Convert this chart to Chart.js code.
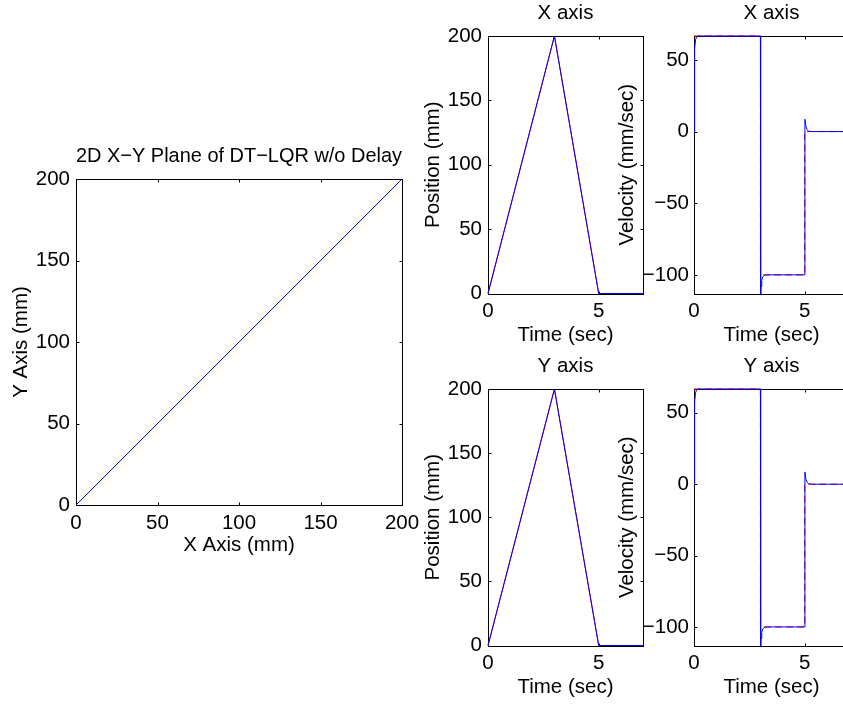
<!DOCTYPE html>
<html>
<head>
<meta charset="utf-8">
<script src="https://cdn.jsdelivr.net/npm/chart.js@4.4.1/dist/chart.umd.min.js"></script>
<style>
  html, body { margin: 0; padding: 0; background: #fff; overflow: hidden; width: 843px; height: 705px; }
  canvas { position: absolute; }
</style>
</head>
<body>
<canvas id="xyPlane"></canvas>
<canvas id="posX"></canvas>
<canvas id="velX"></canvas>
<canvas id="posY"></canvas>
<canvas id="velY"></canvas>
<script>
(() => {
  'use strict'

  // Trayectoria en el plano X-Y
  const xyPathX = [0, 200]
  const xyPathY = [0, 200]

  // Posicion: referencia (roja) y respuesta (azul)
  const posTimeRef = [0, 3, 5, 7]
  const posRef = [0, 200, 0, 0]
  const posTimeAct = [0, 3, 5, 7]
  const posXAct = [0, 200, 0, 0]
  const posYAct = [0, 200, 0, 0]

  // Velocidad: referencia (roja, discontinua) y respuesta (azul)
  const velTimeRef = [0, 3, 3, 5, 5, 7]
  const velRef = [66.7, 66.7, -100, -100, 0, 0]
  const velTimeAct = [0, 0.02, 0.04, 0.07, 0.12, 0.2, 3, 3.01, 3.03, 3.06, 3.1, 3.18, 3.3, 5, 5.01, 5.05, 5.1, 5.18, 5.3, 7]
  const velXAct = [0, 40, 58, 64, 66.3, 66.7, 66.7, -118, -108, -104, -101.5, -100.3, -100, -100, 8.6, 4, 1.5, 0.3, 0, 0]
  const velYAct = [0, 40, 58, 64, 66.3, 66.7, 66.7, -118, -108, -104, -101.5, -100.3, -100, -100, 8.6, 4, 1.5, 0.3, 0, 0]

  // Ejes
  const mmTicks = [0, 50, 100, 150, 200]
  const mmRange = [0, 200]
  const timeTicks = [0, 5]
  const timeRange = [0, 7]
  const velTicks = [-100, -50, 0, 50]
  const velRange = [-113, 66.7]

  const FONT = 20.5
  const TITLE_H = 35
  const BLUE = '#0000ff'
  const RED = '#ff0000'

  Chart.defaults.font.family = '"Liberation Sans", Arial, Helvetica, sans-serif'
  Chart.defaults.color = '#000'

  const pts = (xs, ys) => xs.map((x, i) => ({ x, y: ys[i] }))
  const fmt = v => (v < 0 ? '\u2212' + Math.abs(v) : String(v))

  // Caja y marcas hacia dentro, estilo MATLAB
  const matlabBox = {
    id: 'matlabBox',
    beforeDatasetsDraw(chart) {
      const { ctx, chartArea: a, scales } = chart
      const len = 3
      const l = Math.round(a.left) + 0.5, t = Math.round(a.top) + 0.5
      const r = Math.round(a.right) + 0.5, b = Math.round(a.bottom) + 0.5
      ctx.save()
      ctx.strokeStyle = '#000'
      ctx.lineWidth = 1
      ctx.strokeRect(l, t, r - l, b - t)
      ctx.beginPath()
      scales.x.ticks.forEach(tk => {
        const px = Math.round(scales.x.getPixelForValue(tk.value)) + 0.5
        ctx.moveTo(px, b); ctx.lineTo(px, b - len)
        ctx.moveTo(px, t); ctx.lineTo(px, t + len)
      })
      scales.y.ticks.forEach(tk => {
        const py = Math.round(scales.y.getPixelForValue(tk.value)) + 0.5
        ctx.moveTo(l, py); ctx.lineTo(l + len, py)
        ctx.moveTo(r, py); ctx.lineTo(r - len, py)
      })
      ctx.stroke()
      ctx.restore()
    }
  }

  function axis(range, ticks, label, size, horizontal, pad) {
    return {
      type: 'linear',
      min: range[0],
      max: range[1],
      grid: { display: false, drawTicks: false },
      border: { display: false },
      ticks: { font: { size: FONT }, padding: pad, callback: fmt },
      title: { display: true, text: label, font: { size: FONT }, padding: 0 },
      afterBuildTicks: s => { s.ticks = ticks.map(v => ({ value: v })) },
      afterFit: s => { if (horizontal) s.height = size; else s.width = size }
    }
  }

  function line(data, color, dashed, order) {
    return {
      data,
      showLine: true,
      borderColor: color,
      backgroundColor: color,
      borderWidth: 1,
      borderDash: dashed ? [7, 4] : [],
      pointRadius: 0,
      fill: false,
      order,
      clip: 1
    }
  }

  function subplot(id, g, spec) {
    const cv = document.getElementById(id)
    cv.width = g.yW + g.w + g.r
    cv.height = TITLE_H + g.h + g.xH
    cv.style.left = (g.x - g.yW) + 'px'
    cv.style.top = (g.y - TITLE_H) + 'px'
    return new Chart(cv, {
      type: 'scatter',
      data: { datasets: spec.datasets },
      options: {
        responsive: false,
        animation: false,
        devicePixelRatio: 1,
        layout: { padding: { left: 0, top: 0, right: g.r, bottom: 0 } },
        plugins: {
          legend: { display: false },
          tooltip: { enabled: false },
          title: {
            display: true,
            text: spec.title,
            fullSize: false,
            color: '#000',
            font: { size: FONT, weight: 'normal' },
            padding: { top: 0, bottom: TITLE_H - FONT * 1.2 }
          }
        },
        scales: {
          x: axis(spec.xRange, spec.xTicks, spec.xLabel, g.xH, true, 6),
          y: axis(spec.yRange, spec.yTicks, spec.yLabel, g.yW, false, g.yPad)
        }
      },
      plugins: [matlabBox]
    })
  }

  subplot('xyPlane', { x: 76, y: 179, w: 326, h: 326, yW: 67, r: 26, xH: 53, yPad: 6 }, {
    title: '2D X\u2212Y Plane of DT\u2212LQR w/o Delay',
    xLabel: 'X Axis (mm)', yLabel: 'Y Axis (mm)',
    xRange: mmRange, yRange: mmRange, xTicks: mmTicks, yTicks: mmTicks,
    datasets: [line(pts(xyPathX, xyPathY), BLUE, false, 1)]
  })

  const rows = [
    { name: 'X axis', top: 36, h: 258, pos: posXAct, vel: velXAct, ids: ['posX', 'velX'] },
    { name: 'Y axis', top: 389, h: 257, pos: posYAct, vel: velYAct, ids: ['posY', 'velY'] }
  ]

  rows.forEach(row => {
    subplot(row.ids[0], { x: 488, y: row.top, w: 155, h: row.h, yW: 67, r: 10, xH: 54.5, yPad: 6 }, {
      title: row.name,
      xLabel: 'Time (sec)', yLabel: 'Position (mm)',
      xRange: timeRange, yRange: mmRange, xTicks: timeTicks, yTicks: mmTicks,
      datasets: [
        line(pts(posTimeRef, posRef), RED, false, 2),
        line(pts(posTimeAct, row.pos), BLUE, false, 1)
      ]
    })
    subplot(row.ids[1], { x: 694, y: row.top, w: 155, h: row.h, yW: 79, r: 10, xH: 54.5, yPad: 5 }, {
      title: row.name,
      xLabel: 'Time (sec)', yLabel: 'Velocity (mm/sec)',
      xRange: timeRange, yRange: velRange, xTicks: timeTicks, yTicks: velTicks,
      datasets: [
        line(pts(velTimeRef, velRef), RED, true, 2),
        line(pts(velTimeAct, row.vel), BLUE, false, 1)
      ]
    })
  })
})()
</script>
</body>
</html>
